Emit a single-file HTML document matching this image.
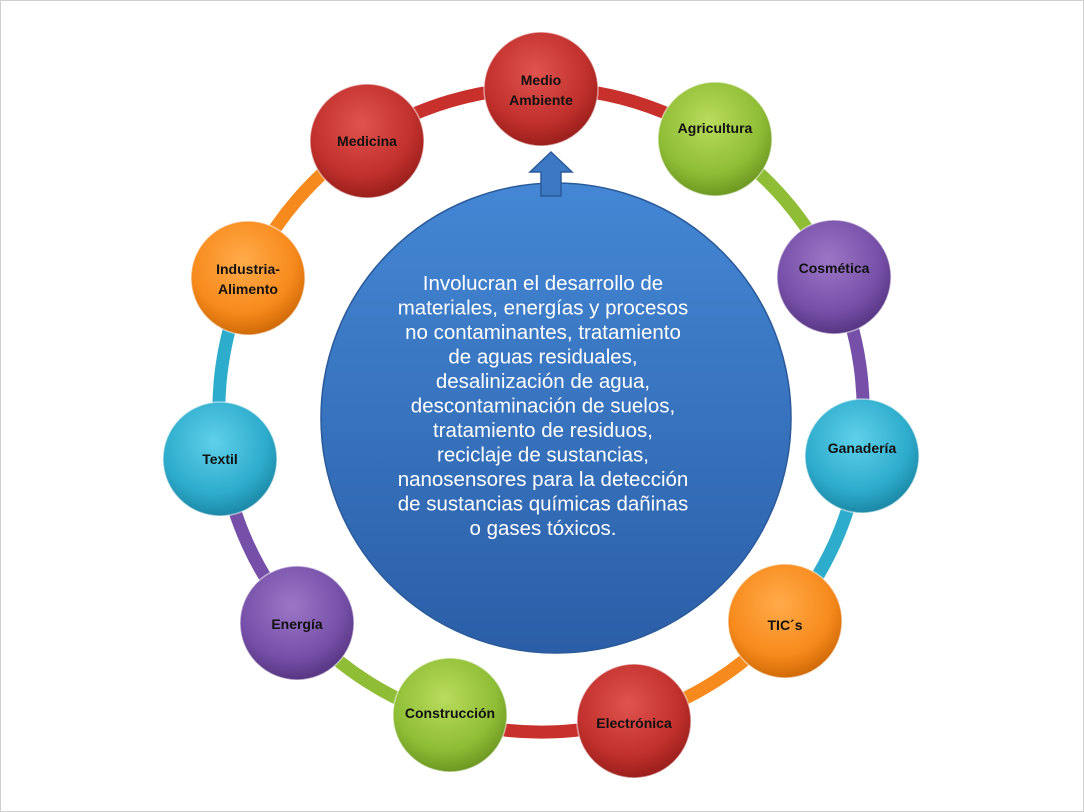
<!DOCTYPE html>
<html><head><meta charset="utf-8"><style>
html,body{margin:0;padding:0;background:#fff;}
svg{display:block;}
text{font-family:"Liberation Sans",Arial,sans-serif;}
</style></head><body>
<svg width="1084" height="812" viewBox="0 0 1084 812" xmlns="http://www.w3.org/2000/svg">
<defs>
<radialGradient id="gR" cx="45%" cy="35%" r="65%"><stop offset="0" stop-color="#e0534f"/><stop offset="0.7" stop-color="#c0302c"/><stop offset="1" stop-color="#9a1f1c"/></radialGradient>
<radialGradient id="gG" cx="45%" cy="35%" r="65%"><stop offset="0" stop-color="#b9dc5c"/><stop offset="0.7" stop-color="#8fbd36"/><stop offset="1" stop-color="#6d9822"/></radialGradient>
<radialGradient id="gP" cx="45%" cy="35%" r="65%"><stop offset="0" stop-color="#9c76c6"/><stop offset="0.7" stop-color="#7650a8"/><stop offset="1" stop-color="#573683"/></radialGradient>
<radialGradient id="gC" cx="45%" cy="35%" r="65%"><stop offset="0" stop-color="#5fd0ea"/><stop offset="0.7" stop-color="#2eaccc"/><stop offset="1" stop-color="#1c88a6"/></radialGradient>
<radialGradient id="gO" cx="45%" cy="35%" r="65%"><stop offset="0" stop-color="#ffab4a"/><stop offset="0.7" stop-color="#f78a1c"/><stop offset="1" stop-color="#d06a08"/></radialGradient>
<linearGradient id="gB" x1="0" y1="0" x2="0" y2="1"><stop offset="0" stop-color="#4487d4"/><stop offset="1" stop-color="#2b5ea7"/></linearGradient>
</defs>
<rect x="0.5" y="0.5" width="1083" height="811" fill="#fff" stroke="#d0d0d0"/>
<g fill="none" stroke-width="13" stroke-linecap="butt">
<path d="M541 88 A322 322 0 0 1 715 139" stroke="#c8302c"/>
<path d="M715 139 A322 322 0 0 1 834 277" stroke="#8fbd36"/>
<path d="M834 277 A322 322 0 0 1 860 456" stroke="#7650a8"/>
<path d="M860 456 A322 322 0 0 1 785 621" stroke="#2eaccc"/>
<path d="M785 621 A322 322 0 0 1 632 719" stroke="#f78a1c"/>
<path d="M632 719 A322 322 0 0 1 450 719" stroke="#c8302c"/>
<path d="M450 719 A322 322 0 0 1 297 621" stroke="#8fbd36"/>
<path d="M297 621 A322 322 0 0 1 222 456" stroke="#7650a8"/>
<path d="M222 456 A322 322 0 0 1 248 277" stroke="#2eaccc"/>
<path d="M248 277 A322 322 0 0 1 367 139" stroke="#f78a1c"/>
<path d="M367 139 A322 322 0 0 1 541 88" stroke="#c8302c"/>
</g>
<circle cx="556" cy="418" r="235" fill="url(#gB)" stroke="#2a5a9a" stroke-width="1.5"/>
<path d="M541 196 L541 172 L530 172 L551 152 L572 172 L561 172 L561 196 Z" fill="#3d78c4" stroke="#2a5a9a" stroke-width="1.5"/>
<g fill="#fff" font-size="20.5" text-anchor="middle">
<text x="543" y="290">Involucran el desarrollo de</text>
<text x="543" y="314.5">materiales, energías y procesos</text>
<text x="543" y="339">no contaminantes, tratamiento</text>
<text x="543" y="363.5">de aguas residuales,</text>
<text x="543" y="388">desalinización de agua,</text>
<text x="543" y="412.5">descontaminación de suelos,</text>
<text x="543" y="437">tratamiento de residuos,</text>
<text x="543" y="461.5">reciclaje de sustancias,</text>
<text x="543" y="486">nanosensores para la detección</text>
<text x="543" y="510.5">de sustancias químicas dañinas</text>
<text x="543" y="535">o gases tóxicos.</text>
</g>
<g stroke="#fff" stroke-opacity="0.5" stroke-width="1.5">
<circle cx="541" cy="89" r="57" fill="url(#gR)"/>
<circle cx="715" cy="139" r="57" fill="url(#gG)"/>
<circle cx="834" cy="277" r="57" fill="url(#gP)"/>
<circle cx="862" cy="456" r="57" fill="url(#gC)"/>
<circle cx="785" cy="621" r="57" fill="url(#gO)"/>
<circle cx="634" cy="721" r="57" fill="url(#gR)"/>
<circle cx="450" cy="715" r="57" fill="url(#gG)"/>
<circle cx="297" cy="623" r="57" fill="url(#gP)"/>
<circle cx="220" cy="459" r="57" fill="url(#gC)"/>
<circle cx="248" cy="278" r="57" fill="url(#gO)"/>
<circle cx="367" cy="141" r="57" fill="url(#gR)"/>
</g>
<g fill="#111" font-size="14" font-weight="bold" text-anchor="middle">
<text x="541" y="85">Medio</text><text x="541" y="105">Ambiente</text>
<text x="715" y="133">Agricultura</text>
<text x="834" y="273">Cosmética</text>
<text x="862" y="453">Ganadería</text>
<text x="785" y="630">TIC´s</text>
<text x="634" y="728">Electrónica</text>
<text x="450" y="718">Construcción</text>
<text x="297" y="629">Energía</text>
<text x="220" y="464">Textil</text>
<text x="248" y="274">Industria-</text><text x="248" y="294">Alimento</text>
<text x="367" y="146">Medicina</text>
</g>
</svg>
</body></html>
